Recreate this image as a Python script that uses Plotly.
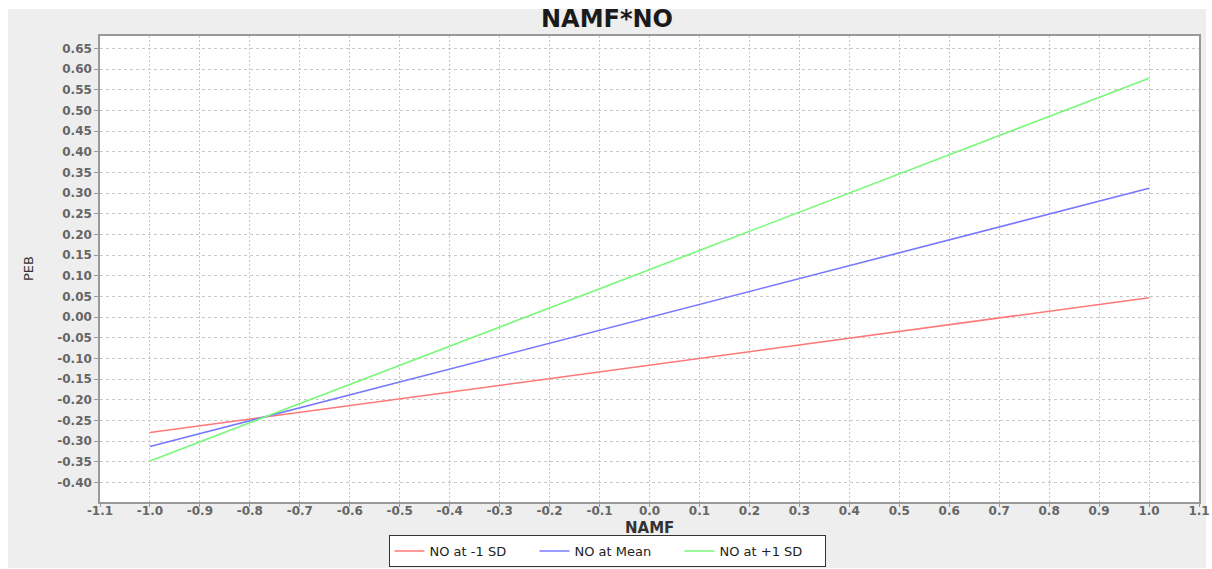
import plotly.graph_objects as go

# Simple slopes of PEB on NAMF at three levels of the moderator NO
namf = [-1.0, 1.0]
peb_low = [-0.279, 0.047]    # NO at -1 SD
peb_mean = [-0.313, 0.312]   # NO at Mean
peb_high = [-0.348, 0.578]   # NO at +1 SD

series_names = ["NO at -1 SD", "NO at Mean", "NO at +1 SD"]
series_values = [peb_low, peb_mean, peb_high]
series_colors = ["#ff7878", "#7878ff", "#78f878"]

x_ticks = [round(-1.1 + 0.1 * i, 1) for i in range(23)]
y_ticks = [round(-0.40 + 0.05 * i, 2) for i in range(22)]

x_title = "NAMF"
y_title = "PEB"

fig = go.Figure()
for name, vals, col in zip(series_names, series_values, series_colors):
    fig.add_trace(go.Scatter(x=namf, y=vals, mode="lines", name=name,
                             line=dict(color=col, width=1.6)))

W, H = 1212, 569
L, R, T, B = 100, 13, 36, 67
pw, ph = W - L - R, H - T - B


def px_x(p):
    return (p - L) / pw


def px_y(p):
    return (H - B - p) / ph


# white page edges around the grey chart panel
for x0, x1, y0, y1 in [(0, W, 0, 9), (0, 8, 0, H), (1206, W, 0, H), (0, W, 568, H)]:
    fig.add_shape(type="rect", xref="paper", yref="paper",
                  x0=px_x(x0), x1=px_x(x1), y0=px_y(y1), y1=px_y(y0),
                  fillcolor="white", line=dict(width=0), layer="below")

# axis titles
fig.add_annotation(text=x_title, xref="paper", yref="paper",
                   x=0.5, y=px_y(528), xanchor="center", yanchor="middle",
                   showarrow=False,
                   font=dict(family="DejaVu Sans", size=15, color="#333333",
                             weight="bold"))
fig.add_annotation(text=y_title, xref="paper", yref="paper",
                   x=px_x(28), y=0.5, xanchor="center", yanchor="middle",
                   textangle=-90, showarrow=False,
                   font=dict(family="DejaVu Sans", size=13, color="#333333"))

tick_font = dict(family="DejaVu Sans", size=12, color="#666666", weight="bold")

fig.update_layout(
    width=W, height=H,
    margin=dict(l=L, r=R, t=T, b=B, autoexpand=False),
    paper_bgcolor="#eeeeee", plot_bgcolor="white",
    title=dict(text="<b>NAMF*NO</b>", x=607 / W, xref="container",
               y=1 - 19 / H, yref="container", yanchor="middle", xanchor="center",
               font=dict(family="DejaVu Sans", size=24, color="#1a1a1a")),
    showlegend=True,
    legend=dict(orientation="h", x=607 / W, xref="container", xanchor="center",
                y=1 - 567 / H, yref="container", yanchor="bottom", bgcolor="white",
                bordercolor="#333333", borderwidth=1,
                font=dict(family="DejaVu Sans", size=13, color="#222222"),
                itemwidth=30, tracegroupgap=0,
                entrywidth=100, entrywidthmode="pixels"),
    xaxis=dict(range=[-1.1, 1.1], tickvals=x_ticks,
               ticktext=[f"{v:.1f}" for v in x_ticks],
               automargin=False,
               showgrid=True, gridcolor="#c8c8c8", griddash="2px,2px",
               gridwidth=1, zeroline=False,
               showline=True, linecolor="#999999", linewidth=1.5, mirror=True,
               ticks="outside", ticklen=3, tickcolor="#999999",
               ticklabelstandoff=-6,
               tickfont=tick_font),
    yaxis=dict(range=[-0.447, 0.68], tickvals=y_ticks,
               ticktext=[f"{v:.2f}" for v in y_ticks],
               automargin=False,
               showgrid=True, gridcolor="#c8c8c8", griddash="3px,3px",
               gridwidth=1, zeroline=False,
               showline=True, linecolor="#999999", linewidth=1.5, mirror=True,
               ticks="outside", ticklen=4, tickcolor="#999999",
               tickfont=tick_font),
)

fig.write_html("out.html")
